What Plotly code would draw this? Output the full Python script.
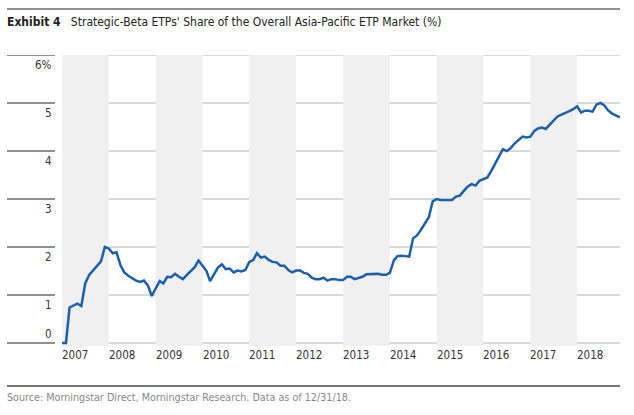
import plotly.graph_objects as go
import pandas as pd

# ---- data ----
months = pd.date_range("2007-01-01", "2018-12-01", freq="MS")
share_2007 = [0.0, 0.0, 0.74, 0.78, 0.82, 0.77, 1.24, 1.42, 1.52, 1.60, 1.70, 2.00]
share_2008 = [1.97, 1.87, 1.89, 1.62, 1.47, 1.40, 1.35, 1.30, 1.27, 1.30, 1.20, 0.98]
share_2009 = [1.14, 1.29, 1.24, 1.38, 1.37, 1.44, 1.38, 1.33, 1.42, 1.50, 1.58, 1.72]
share_2010 = [1.60, 1.50, 1.29, 1.42, 1.57, 1.64, 1.54, 1.55, 1.47, 1.51, 1.49, 1.52]
share_2011 = [1.69, 1.73, 1.87, 1.78, 1.80, 1.73, 1.69, 1.68, 1.61, 1.61, 1.52, 1.47]
share_2012 = [1.51, 1.51, 1.46, 1.44, 1.36, 1.33, 1.33, 1.36, 1.30, 1.33, 1.33, 1.31]
share_2013 = [1.31, 1.38, 1.38, 1.33, 1.35, 1.38, 1.43, 1.43, 1.43, 1.44, 1.42, 1.42]
share_2014 = [1.46, 1.72, 1.81, 1.82, 1.81, 1.80, 2.18, 2.24, 2.36, 2.50, 2.62, 2.95]
share_2015 = [3.00, 2.98, 2.98, 2.98, 2.98, 3.05, 3.07, 3.17, 3.26, 3.31, 3.28, 3.38]
share_2016 = [3.42, 3.45, 3.58, 3.74, 3.88, 4.04, 4.00, 4.06, 4.16, 4.23, 4.30, 4.28]
share_2017 = [4.30, 4.42, 4.47, 4.49, 4.46, 4.55, 4.63, 4.72, 4.76, 4.79, 4.83, 4.87]
share_2018 = [4.93, 4.80, 4.84, 4.84, 4.82, 4.97, 5.00, 4.95, 4.84, 4.78, 4.74, 4.70]
share = (share_2007 + share_2008 + share_2009 + share_2010 + share_2011 + share_2012
         + share_2013 + share_2014 + share_2015 + share_2016 + share_2017 + share_2018)

years = list(range(2007, 2019))
year_labels = [str(y) for y in years]
y_ticks = [0, 1, 2, 3, 4, 5, 6]
y_tick_labels = ["0", "1", "2", "3", "4", "5", "6%"]

title_bold = "Exhibit 4"
title_text = "Strategic-Beta ETPs' Share of the Overall Asia-Pacific ETP Market (%)"
source_text = "Source: Morningstar Direct, Morningstar Research. Data as of 12/31/18."

FONT = "DejaVu Sans Condensed, Liberation Sans Narrow, sans-serif"
W, H = 634, 415
L, R, T, B = 62, 14, 55, 69
plot_w = W - L - R
plot_h = H - T - B

def px_to_paper_x(px):
    return (px - L) / plot_w

def px_to_paper_y(py):
    return (H - B - py) / plot_h

fig = go.Figure()
fig.add_trace(go.Scatter(
    x=months, y=share, mode="lines",
    line=dict(color="#1c5fab", width=2.5),
    hoverinfo="skip", showlegend=False,
))

shapes = []
# alternating year bands
for i, y in enumerate(years):
    if i % 2 == 0:
        shapes.append(dict(type="rect", xref="x", yref="y",
                           x0=f"{y}-01-01", x1=f"{y + 1}-01-01", y0=-0.0625, y1=6,
                           fillcolor="#f0f0f0", line=dict(width=0), layer="below"))
# gridlines in plot + short dark segments at left
for v in y_ticks:
    shapes.append(dict(type="line", xref="paper", yref="y", x0=0, x1=1, y0=v, y1=v,
                       line=dict(color="#b3b3b3", width=1.2), layer="below"))
    shapes.append(dict(type="line", xref="paper", yref="y",
                       x0=px_to_paper_x(7), x1=px_to_paper_x(55), y0=v, y1=v,
                       line=dict(color="#222222", width=1.2)))
# top and bottom rules
shapes.append(dict(type="line", xref="paper", yref="paper",
                   x0=px_to_paper_x(7), x1=px_to_paper_x(620),
                   y0=px_to_paper_y(9), y1=px_to_paper_y(9),
                   line=dict(color="#222222", width=1.2)))
shapes.append(dict(type="line", xref="paper", yref="paper",
                   x0=px_to_paper_x(7), x1=px_to_paper_x(620),
                   y0=px_to_paper_y(386), y1=px_to_paper_y(386),
                   line=dict(color="#777777", width=2)))

annotations = []
for v, lab in zip(y_ticks, y_tick_labels):
    annotations.append(dict(
        xref="paper", yref="y", x=0, y=v, xshift=-8,
        xanchor="right", yanchor="bottom" if v == 0 else "top",
        yshift=0 if v == 0 else -1,
        text=lab, showarrow=False,
        font=dict(family=FONT, size=11.5, color="#333333"),
    ))
for y, lab in zip(years, year_labels):
    annotations.append(dict(
        xref="x", yref="y", x=f"{y}-01-01", y=0, yshift=-3,
        xanchor="left", yanchor="top", xshift=-2,
        text=lab, showarrow=False,
        font=dict(family=FONT, size=11.5, color="#333333"),
    ))
annotations.append(dict(
    xref="paper", yref="paper", x=px_to_paper_x(7), y=px_to_paper_y(22),
    xanchor="left", yanchor="middle", showarrow=False, xshift=-2,
    text=f"<b>{title_bold}</b>   {title_text}",
    font=dict(family=FONT, size=12, color="#222222"),
))
annotations.append(dict(
    xref="paper", yref="paper", x=px_to_paper_x(7), y=px_to_paper_y(397),
    xanchor="left", yanchor="middle", showarrow=False, xshift=-2,
    text=source_text,
    font=dict(family=FONT, size=10.7, color="#888888"),
))

fig.update_layout(
    width=W, height=H,
    margin=dict(l=L, r=R, t=T, b=B, pad=0),
    paper_bgcolor="white", plot_bgcolor="white",
    xaxis=dict(range=["2007-01-01", "2018-12-01"], showgrid=False, showticklabels=False,
               zeroline=False, showline=False, ticks="", fixedrange=True),
    yaxis=dict(range=[-0.0625, 6], showgrid=False, showticklabels=False,
               zeroline=False, showline=False, ticks="", fixedrange=True),
    shapes=shapes, annotations=annotations,
    font=dict(family=FONT),
)

fig.write_html("out.html", config={"displayModeBar": False},
               post_script="document.body.style.margin='0';document.body.style.padding='0';")
